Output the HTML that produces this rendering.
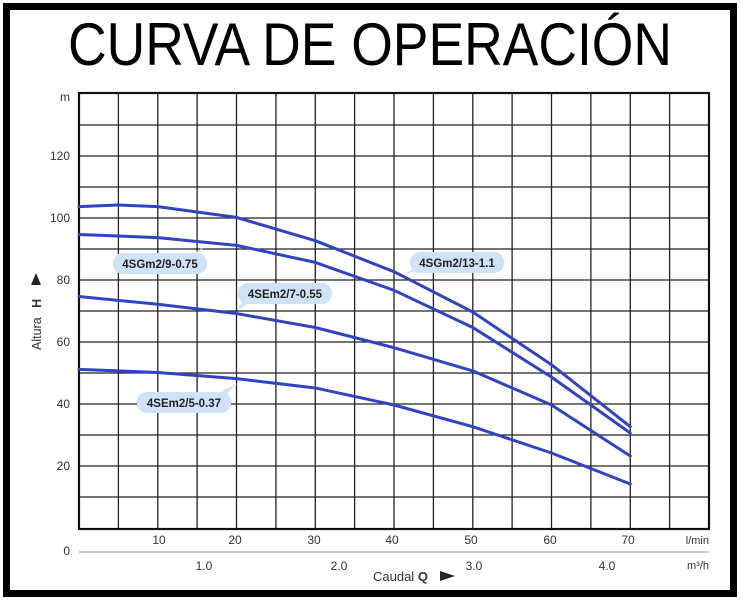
<!DOCTYPE html>
<html><head><meta charset="utf-8"><style>
html,body{margin:0;padding:0;background:#fff}
svg{display:block}
text{font-family:"Liberation Sans",Arial,sans-serif}
</style></head><body>
<svg width="740" height="600" viewBox="0 0 740 600" xmlns="http://www.w3.org/2000/svg">
<rect x="0" y="0" width="740" height="600" fill="#fff"/>
<rect x="6.5" y="6.5" width="727" height="587" fill="none" stroke="#000" stroke-width="7"/>
<text x="370" y="65" font-size="60" text-anchor="middle" textLength="604" lengthAdjust="spacingAndGlyphs" fill="#000">CURVA DE OPERACIÓN</text>
<g stroke="#222" stroke-width="1.3" fill="none">
<path d="M118.4 93V529M157.8 93V529M197.1 93V529M236.5 93V529M275.9 93V529M315.3 93V529M354.6 93V529M394 93V529M433.4 93V529M472.8 93V529M512.1 93V529M551.5 93V529M590.9 93V529M630.3 93V529M669.6 93V529"/>
<path d="M79 125H709M79 156H709M79 187H709M79 218H709M79 249H709M79 280H709M79 311H709M79 342H709M79 373H709M79 404H709M79 435H709M79 466H709M79 497H709"/>
</g>
<rect x="79" y="93" width="630" height="436" fill="none" stroke="#111" stroke-width="2.2"/>
<g fill="none" stroke="#2f43c4" stroke-width="3" stroke-linejoin="round" stroke-linecap="round">
<polyline points="79,206.6 118.4,205 157.75,206.6 236.5,217.4 315.25,240.7 394,271.7 472.75,312 551.5,364.7 630.25,426.7"/>
<polyline points="79,234.5 157.75,237.6 236.5,245.35 315.25,262.4 394,290.3 472.75,327.5 551.5,377.1 630.25,433"/>
<polyline points="79,296.5 157.75,304.25 236.5,313.55 315.25,327.5 394,347.65 472.75,370.9 551.5,405 630.25,456"/>
<polyline points="79,369.35 157.75,372.45 236.5,378.65 315.25,387.95 394,405 472.75,426.7 551.5,453 630.25,484"/>
</g>
<g fill="#cfe2f7">
<rect x="113" y="253" width="94" height="21" rx="10"/><path d="M195 256L205 246L190 256Z"/>
<rect x="238" y="283" width="94" height="21" rx="10"/><path d="M243 300L238 310L253 300Z"/>
<rect x="410" y="252" width="94" height="21" rx="10"/><path d="M415 268L403 275L425 268Z"/>
<rect x="137" y="392" width="94" height="21" rx="10"/><path d="M225 395L238 383L215 395Z"/>
</g>
<g font-size="11.5" font-weight="bold" fill="#222" text-anchor="middle">
<text x="160" y="268">4SGm2/9-0.75</text>
<text x="285" y="298">4SEm2/7-0.55</text>
<text x="457" y="267">4SGm2/13-1.1</text>
<text x="184" y="407">4SEm2/5-0.37</text>
</g>
<g font-size="12" fill="#333" text-anchor="end">
<text x="70" y="101">m</text>
<text x="70" y="160">120</text>
<text x="70" y="222">100</text>
<text x="70" y="284">80</text>
<text x="70" y="346">60</text>
<text x="70" y="408">40</text>
<text x="70" y="470">20</text>
<text x="70" y="555">0</text>
</g>
<g font-size="12" fill="#333" text-anchor="middle">
<text x="159" y="544">10</text><text x="235" y="544">20</text><text x="314" y="544">30</text>
<text x="392" y="544">40</text><text x="471" y="544">50</text><text x="550" y="544">60</text><text x="628" y="544">70</text>
<text x="204" y="570">1.0</text><text x="339" y="570">2.0</text><text x="474" y="570">3.0</text><text x="607" y="570">4.0</text>
</g>
<line x1="79" y1="552" x2="709" y2="552" stroke="#999" stroke-width="1"/>
<g font-size="11" fill="#333" text-anchor="end">
<text x="709" y="544">l/min</text>
<text x="709" y="569">m³/h</text>
</g>
<text x="373" y="581" font-size="13" fill="#333">Caudal <tspan font-weight="bold">Q</tspan></text>
<path d="M440 571L455 576L440 581Z" fill="#222"/>
<g transform="translate(41,350) rotate(-90)">
<text x="0" y="0" font-size="12.5" fill="#333">Altura <tspan dx="6" font-weight="bold">H</tspan></text>
</g>
<path d="M31 285L36 273L41 285Z" fill="#222"/>
</svg>
</body></html>
